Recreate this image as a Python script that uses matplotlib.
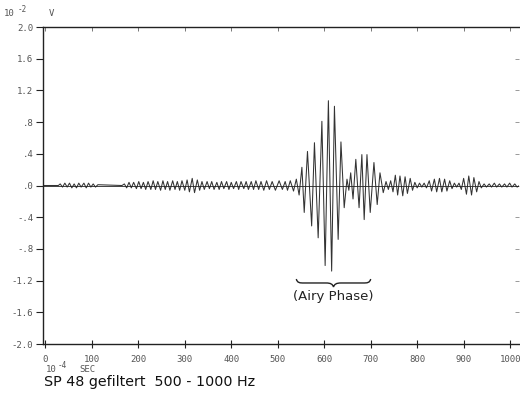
import matplotlib
matplotlib.use('Agg')
import matplotlib.pyplot as plt
from matplotlib.path import Path
from matplotlib.patches import PathPatch

# turning points of the filtered trace (time in 1e-4 s, amplitude in 1e-2 V)
trace_t = [
    -5, 28,
    32, 37, 42, 47, 52, 57, 62, 67, 72, 77, 83, 88, 93, 98, 103, 108, 113,
    165,
    170, 175, 180, 185, 190, 196, 201, 206, 211, 216, 221,
    227, 232, 237, 242, 248, 253, 258, 263, 268, 274, 279, 284, 289, 294, 300, 305,
    310, 316, 321, 327, 332,
    337, 342, 348, 353, 358, 363, 369, 374, 379, 384, 390, 395, 400, 405, 411, 416,
    421, 427, 432, 437, 443, 448, 453, 459, 464, 470, 476, 482, 488, 495, 503, 510,
    516, 521, 527, 534, 540, 546,
    552, 557, 564, 573, 579, 587, 595, 602, 609, 616, 622, 630, 636, 643,
    649, 653, 657, 662, 668, 675, 681, 686, 692, 699, 707, 714, 720, 727,
    733, 738, 743, 748, 753, 758, 763, 769, 774, 779, 785, 790, 795, 800, 805, 810,
    815, 820,
    826, 831, 837, 842, 848, 853, 859, 864, 870, 875, 880, 885, 890,
    895, 900, 906, 911, 917, 922, 928, 933, 938,
    944, 949, 955, 960, 966, 971, 977, 982, 988, 993, 999, 1004, 1010, 1015, 1020,
]
trace_v = [
    0.0, 0.0,
    0.02, -0.02, 0.03, -0.02, 0.03, -0.03, 0.02, -0.03, 0.03, -0.02, 0.03, -0.03, 0.03, -0.02, 0.02, -0.02, 0.01,
    0.0,
    0.02, -0.03, 0.04, -0.03, 0.04, -0.04, 0.05, -0.04, 0.04, -0.05, 0.05,
    -0.05, 0.06, -0.05, 0.05, -0.06, 0.06, -0.05, 0.05, -0.06, 0.06, -0.05, 0.05, -0.06, 0.06, -0.06, 0.07,
    -0.08, 0.09, -0.09, 0.07, -0.06,
    0.05, -0.05, 0.05, -0.04, 0.05, -0.05, 0.04, -0.05, 0.05, -0.04, 0.05, -0.05, 0.04, -0.04, 0.05, -0.05,
    0.05, -0.04, 0.05, -0.05, 0.05, -0.05, 0.06, -0.05, 0.05, -0.06, 0.06, -0.05, 0.05, -0.06, 0.06, -0.05,
    0.05, -0.06, 0.06, -0.07, 0.08, -0.12,
    0.23, -0.34, 0.43, -0.51, 0.54, -0.66, 0.81, -1.01, 1.07, -1.08, 1.00, -0.68, 0.55, -0.28,
    0.08, -0.06, 0.16, -0.17, 0.33, -0.28, 0.39, -0.43, 0.39, -0.34, 0.29, -0.24, 0.16, -0.09,
    0.05, -0.05, 0.06, -0.08, 0.13, -0.12, 0.12, -0.13, 0.11, -0.10, 0.09, -0.06, 0.04, -0.03, 0.03, -0.02,
    0.03, -0.03,
    0.06, -0.07, 0.08, -0.08, 0.09, -0.08, 0.08, -0.07, 0.06, -0.04, 0.03, -0.02, 0.03,
    -0.05, 0.09, -0.11, 0.12, -0.12, 0.10, -0.08, 0.05, -0.03,
    0.02, -0.02, 0.02, -0.02, 0.03, -0.02, 0.02, -0.02, 0.02, -0.02, 0.03, -0.02, 0.02, -0.02, 0.0,
]

x_ticks = [0, 100, 200, 300, 400, 500, 600, 700, 800, 900, 1000]
x_tick_labels = ['0', '100', '200', '300', '400', '500', '600', '700', '800', '900', '1000']
y_ticks = [-2.0, -1.6, -1.2, -0.8, -0.4, 0.0, 0.4, 0.8, 1.2, 1.6, 2.0]
y_tick_labels = ['-2.0', '-1.6', '-1.2', '-.8', '-.4', '.0', '.4', '.8', '1.2', '1.6', '2.0']

# span of the Airy phase marked under the wave group
airy_start = 540
airy_end = 700
airy_level = -1.23

mono = 'DejaVu Sans Mono'
ink = '#333333'
label_grey = '#555555'

fig = plt.figure(figsize=(5.2, 3.96), dpi=100)
ax = fig.add_axes([0.0827, 0.1313, 0.9153, 0.8005])

ax.plot(trace_t, trace_v, color=ink, lw=0.75)
ax.axhline(0, color='#222222', lw=0.6)

ax.set_xlim(-5, 1019)
ax.set_ylim(-2.0, 2.0)

ax.set_xticks(x_ticks)
ax.set_xticklabels(x_tick_labels, fontfamily=mono, fontsize=6.5, color=label_grey)
ax.set_yticks(y_ticks)
ax.set_yticklabels(y_tick_labels, fontfamily=mono, fontsize=6.5, color=label_grey)
ax.tick_params(axis='x', direction='inout', length=6, width=0.8, pad=5, colors='#222222', labelcolor=label_grey)
ax.tick_params(axis='y', direction='out', length=5, width=0.8, pad=2, colors='#222222', labelcolor=label_grey)
for side in ('left', 'bottom', 'top'):
    ax.spines[side].set_linewidth(1.0)
    ax.spines[side].set_color('#222222')
ax.spines['right'].set_visible(False)

# faint inward ticks along the top and right edges
top = ax.secondary_xaxis('top')
top.set_xticks(x_ticks)
top.tick_params(direction='in', length=3, width=0.7, colors='#777777', labeltop=False)
top.spines['top'].set_visible(False)
right = ax.secondary_yaxis('right')
right.set_yticks(y_ticks)
right.tick_params(direction='in', length=3, width=0.7, colors='#999999', labelright=False)
right.spines['right'].set_visible(False)

# brace under the Airy phase
mid = (airy_start + airy_end) / 2
h = 0.05
y = airy_level
verts = [
    (airy_start, y + h),
    (airy_start + 2, y), (airy_start + 8, y), (airy_start + 16, y),
    (mid - 16, y),
    (mid - 6, y), (mid - 2, y - 0.3 * h), (mid, y - h),
    (mid + 2, y - 0.3 * h), (mid + 6, y), (mid + 16, y),
    (airy_end - 16, y),
    (airy_end - 8, y), (airy_end - 2, y), (airy_end, y + h),
]
codes = [Path.MOVETO] + [Path.CURVE4] * 3 + [Path.LINETO] + [Path.CURVE4] * 6 + [Path.LINETO] + [Path.CURVE4] * 3
ax.add_patch(PathPatch(Path(verts, codes), facecolor='none', edgecolor='#222222', lw=1.0))
ax.text(mid, -1.40, '(Airy Phase)', ha='center', va='center', fontsize=9.5, color='#222222')

# unit captions
fig.text(4 / 520, 1 - 13 / 396, '10', fontfamily=mono, fontsize=6.5, color=label_grey, va='center')
fig.text(18 / 520, 1 - 9 / 396, '-2', fontfamily=mono, fontsize=5.5, color=label_grey, va='center')
fig.text(49 / 520, 1 - 13 / 396, 'V', fontfamily=mono, fontsize=6.5, color=label_grey, va='center')
fig.text(46 / 520, 1 - 370 / 396, '10', fontfamily=mono, fontsize=6.5, color=label_grey, va='center')
fig.text(58 / 520, 1 - 366 / 396, '-4', fontfamily=mono, fontsize=5.5, color=label_grey, va='center')
fig.text(79 / 520, 1 - 370 / 396, 'SEC', fontfamily=mono, fontsize=6.5, color=label_grey, va='center')
fig.text(44 / 520, 1 - 382 / 396, 'SP 48 gefiltert  500 - 1000 Hz', fontsize=10.3, color='#111111', va='center')

fig.savefig('out.png', dpi=100)
